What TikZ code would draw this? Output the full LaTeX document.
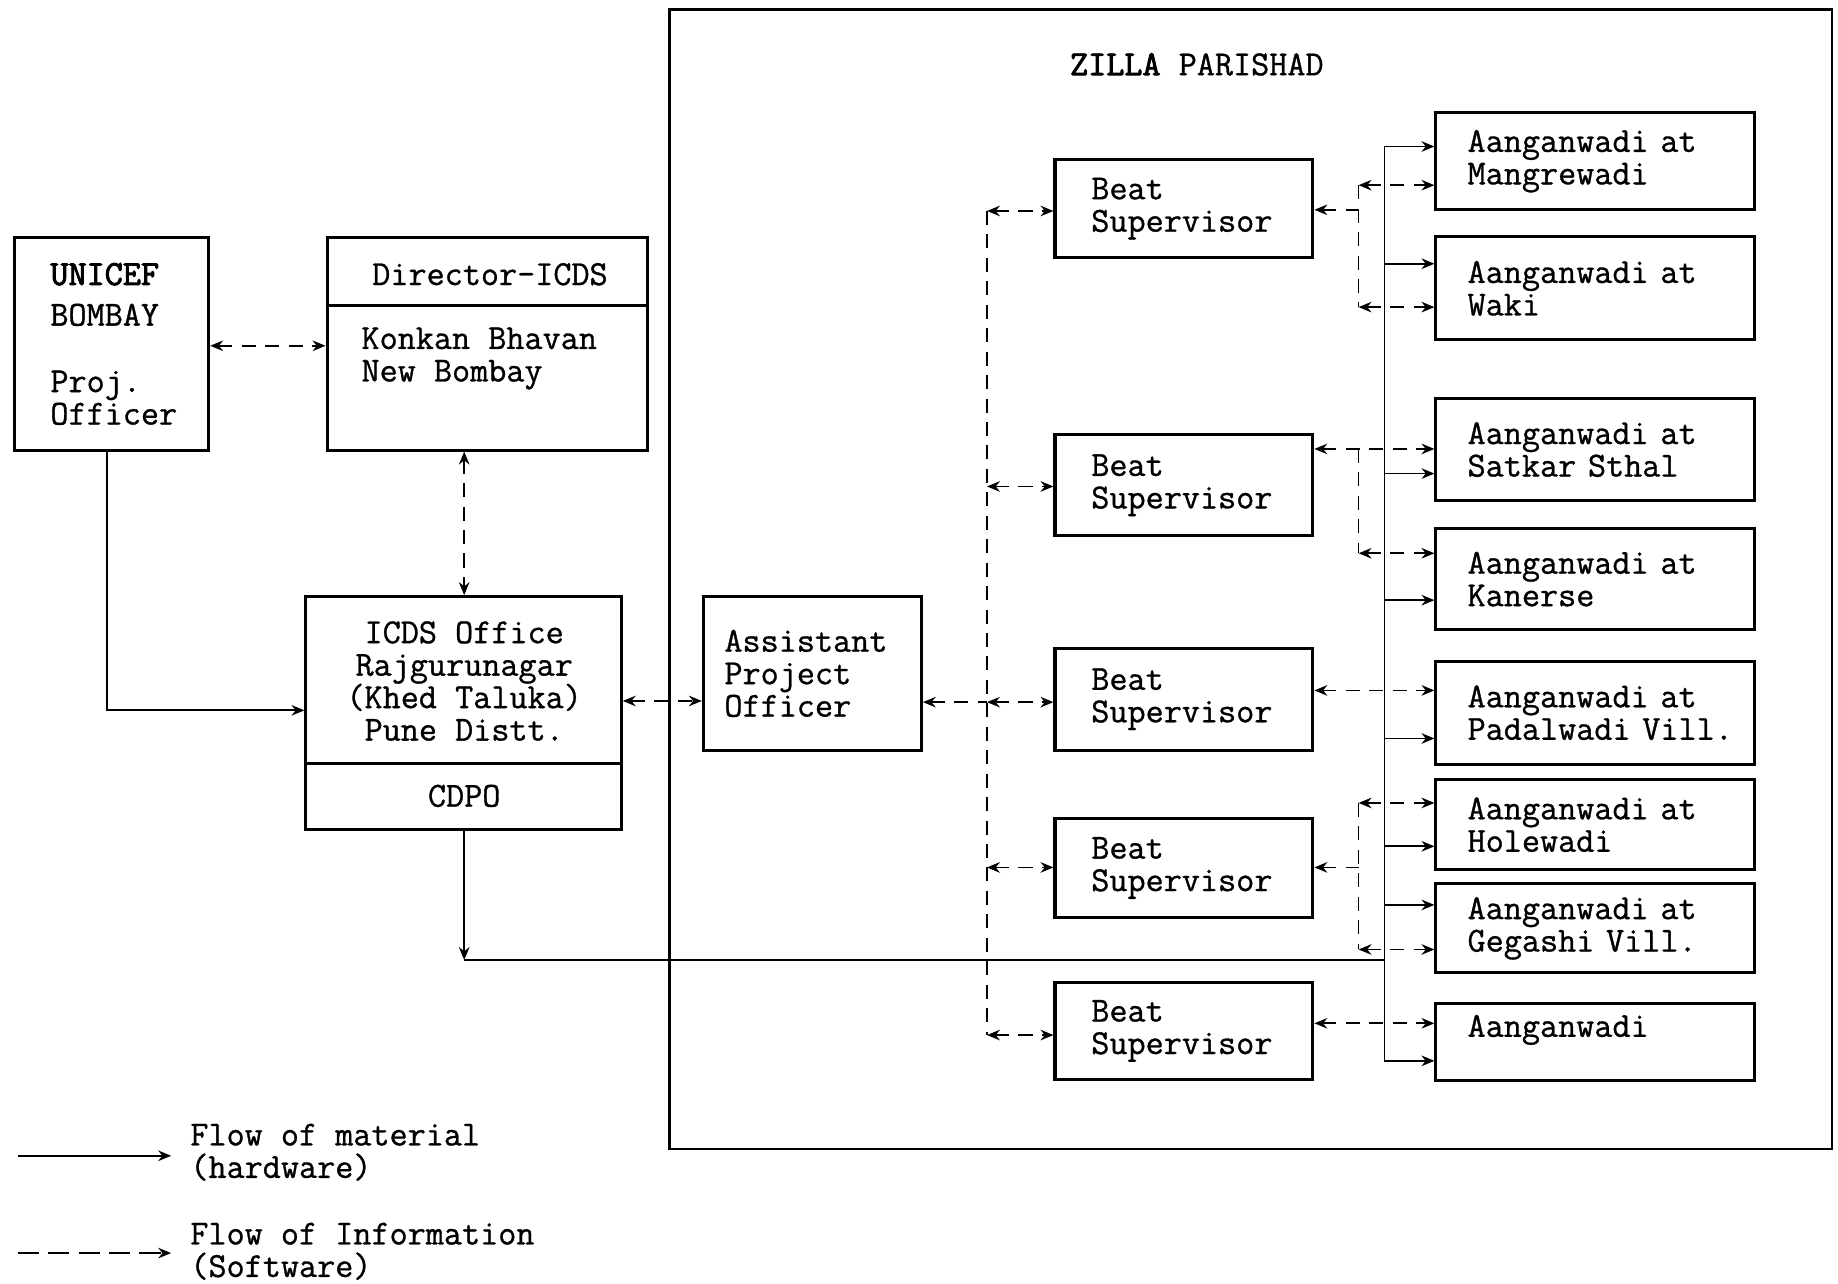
\documentclass[tikz,border=0pt]{standalone}
\usepackage{fontspec}
\usetikzlibrary{arrows.meta}
\newfontfamily\twfont{Latin Modern Mono}[FakeBold=0.9, BoldFont={Latin Modern Mono}, BoldFeatures={FakeBold=2.6}]
\newcommand\dgfont{\twfont\fontsize{15}{13.85}\selectfont}
\begin{document}
\begin{tikzpicture}[x=0.5pt,y=-0.5pt,
  box/.style={draw, line width=1.3pt, inner sep=0pt, font=\dgfont, align=left},
  bs/.style={box, minimum width=110pt, text width=79pt},
  aw/.style={box, minimum width=136pt, text width=109pt},
  txt/.style={inner sep=0pt, font=\dgfont},
  mat/.style={line width=0.75pt},
  matarr/.style={mat, -{Stealth[length=5.5pt,width=4.5pt]}},
  info/.style={line width=0.75pt, dash pattern=on 6pt off 4pt},
  infoboth/.style={info, {Stealth[length=5.5pt,width=4.5pt]}-{Stealth[length=5.5pt,width=4.5pt]}},
  infol/.style={info, {Stealth[length=5.5pt,width=4.5pt]}-},
  infor/.style={info, -{Stealth[length=5.5pt,width=4.5pt]}}
]
\useasboundingbox (0,0) rectangle (1568,1095);

% Zilla Parishad frame
\node[draw, line width=1pt, minimum width=496pt, minimum height=486pt, inner sep=0pt] (zp) at (1067,494) {};
\node[txt] (zt) at (1021,55) {\textbf{ZILLA} PARISHAD};

% left boxes
\node[box, minimum width=83pt, minimum height=90.5pt, text width=52pt] (unicef) at (95,293.5)
  {\textbf{UNICEF}\\[3.5pt]BOMBAY\\[14.5pt]Proj.\\Officer};

\node[box, minimum width=136.5pt, minimum height=90.5pt] (dir) at (415.5,293.5) {};
\draw[line width=1.3pt] (dir.west |- 0,261) -- (dir.east |- 0,261);
\node[txt] (dirt) at (418,234) {Director-ICDS};
\node[txt, anchor=north west, align=left] (kb) at (308,279) {Konkan Bhavan\\New Bombay};

\node[box, minimum width=134.5pt, minimum height=99.5pt] (icds) at (395.5,608.5) {};
\draw[line width=1.3pt] (icds.west |- 0,651) -- (icds.east |- 0,651);
\node[txt, align=center] (icdst) at (396,581) {ICDS Office\\Rajgurunagar\\(Khed Taluka)\\Pune Distt.};
\node[txt] (cdpo) at (396,679) {CDPO};

\node[box, minimum width=93pt, minimum height=65.5pt, text width=75pt] (apo) at (693,574.5)
  {Assistant\\Project\\Officer};

% Beat supervisors
\node[bs, minimum height=42pt]   (b1) at (1010,178)   {Beat\\Supervisor};
\node[bs, minimum height=43pt]   (b2) at (1010,414)   {Beat\\Supervisor};
\node[bs, minimum height=43.5pt] (b3) at (1010,596.5) {Beat\\Supervisor};
\node[bs, minimum height=42.5pt] (b4) at (1010,740.5) {Beat\\Supervisor};
\node[bs, minimum height=41.5pt] (b5) at (1010,879.5) {Beat\\Supervisor};

% Aanganwadis
\node[aw, minimum height=41.5pt] (a1) at (1361,137.5) {Aanganwadi at\\Mangrewadi};
\node[aw, minimum height=44pt]   (a2) at (1361,246)   {Aanganwadi at\\Waki};
\node[aw, minimum height=43.5pt] (a3) at (1361,383.5) {Aanganwadi at\\Satkar Sthal};
\node[aw, minimum height=43pt]   (a4) at (1361,494)   {Aanganwadi at\\Kanerse};
\node[aw, minimum height=44pt]   (a5) at (1361,608)   {Aanganwadi at\\\mbox{Padalwadi Vill.}};
\node[aw, minimum height=38.5pt] (a6) at (1361,703.5) {Aanganwadi at\\Holewadi};
\node[aw, minimum height=38pt]   (a7) at (1361,792)   {Aanganwadi at\\\mbox{Gegashi Vill.}};
\node[aw, minimum height=33pt]   (a8) at (1361,889)   {Aanganwadi\\\mbox{}};

% left-side connectors
\draw[infoboth] (unicef.east |- 0,295) -- (dir.west |- 0,295);
\draw[infoboth] (dir.south -| 396,0) -- (icds.north -| 396,0);
\draw[matarr] (unicef.south -| 91,0) |- (icds.west |- 0,606);
\draw[infoboth] (icds.east |- 0,598) -- (apo.west |- 0,598);

% dashed trunk to beat supervisors
\coordinate (lt1) at (842,180);
\coordinate (lt2) at (842,415);
\coordinate (lt3) at (842,599);
\coordinate (lt4) at (842,740);
\coordinate (lt5) at (842,883);
\draw[info] (lt1) -- (lt5);
\draw[infoboth] (lt1) -- (b1.west |- lt1);
\draw[infoboth] (lt2) -- (b2.west |- lt2);
\draw[infol] (apo.east |- lt3) -- (lt3);
\draw[infoboth] (lt3) -- (b3.west |- lt3);
\draw[infoboth] (lt4) -- (b4.west |- lt4);
\draw[infoboth] (lt5) -- (b5.west |- lt5);

% solid trunk to aanganwadis
\coordinate (rt1) at (1181,125);
\coordinate (rt2) at (1181,225);
\coordinate (rt3) at (1181,404);
\coordinate (rt4) at (1181,512);
\coordinate (rt5) at (1181,630);
\coordinate (rt6) at (1181,722);
\coordinate (rt7) at (1181,772);
\coordinate (rt8) at (1181,905);
\draw[mat] (rt1) -- (rt8);
\draw[matarr] (rt1) -- (a1.west |- rt1);
\draw[matarr] (rt2) -- (a2.west |- rt2);
\draw[matarr] (rt3) -- (a3.west |- rt3);
\draw[matarr] (rt4) -- (a4.west |- rt4);
\draw[matarr] (rt5) -- (a5.west |- rt5);
\draw[matarr] (rt6) -- (a6.west |- rt6);
\draw[matarr] (rt7) -- (a7.west |- rt7);
\draw[matarr] (rt8) -- (a8.west |- rt8);

% ICDS to trunk
\coordinate (ic) at (396,819);
\draw[matarr] (icds.south -| ic) -- (ic);
\draw[mat] (ic) -- (ic -| rt1);

% dashed beat supervisor to aanganwadi links
\coordinate (d1t) at (1159,158);
\coordinate (d1m) at (1159,179);
\coordinate (d1b) at (1159,262);
\draw[info] (d1t) -- (d1b);
\draw[infol] (b1.east |- d1m) -- (d1m);
\draw[infoboth] (d1t) -- (a1.west |- d1t);
\draw[infoboth] (d1b) -- (a2.west |- d1b);

\coordinate (d2t) at (1159,383);
\coordinate (d2b) at (1159,472);
\draw[infoboth] (b2.east |- d2t) -- (a3.west |- d2t);
\draw[info] (d2t) -- (d2b);
\draw[infoboth] (d2b) -- (a4.west |- d2b);

\draw[infoboth] (b3.east |- 0,589) -- (a5.west |- 0,589);

\coordinate (d4t) at (1159,685);
\coordinate (d4m) at (1159,740);
\coordinate (d4b) at (1159,810);
\draw[info] (d4t) -- (d4b);
\draw[infol] (b4.east |- d4m) -- (d4m);
\draw[infoboth] (d4t) -- (a6.west |- d4t);
\draw[infoboth] (d4b) -- (a7.west |- d4b);

\draw[infoboth] (b5.east |- 0,873) -- (a8.west |- 0,873);

% legend
\coordinate (l1a) at (15,986);
\coordinate (l1b) at (146,986);
\draw[matarr] (l1a) -- (l1b);
\node[txt, anchor=west, align=left] (leg1) at (162,983) {Flow of material\\(hardware)};
\coordinate (l2a) at (15,1069);
\coordinate (l2b) at (146,1069);
\draw[infor, dash pattern=on 9pt off 4pt] (l2a) -- (l2b);
\node[txt, anchor=west, align=left] (leg2) at (162,1067.5) {Flow of Information\\(Software)};
\end{tikzpicture}
\end{document}
